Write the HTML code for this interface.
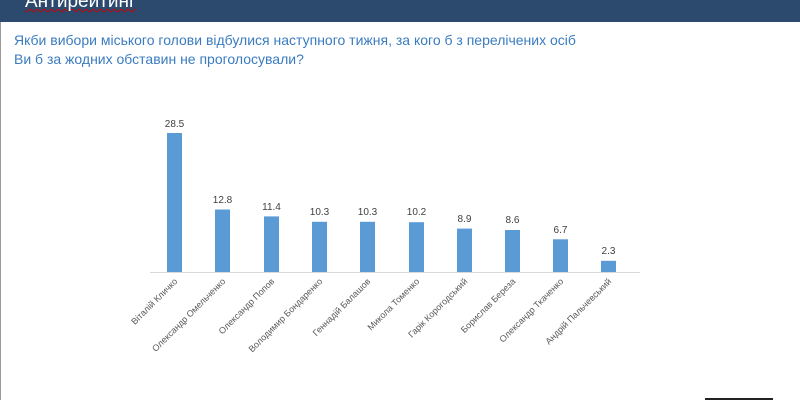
<!DOCTYPE html>
<html><head><meta charset="utf-8"><style>
body{margin:0;width:800px;height:400px;background:#fff;overflow:hidden;position:relative;font-family:"Liberation Sans",sans-serif}
.hdr{position:absolute;left:0;top:0;width:800px;height:22px;background:#2c4a6e}
.hdr span{position:absolute;left:25px;top:-9px;color:#fff;font-size:19px;text-decoration:underline wavy #c00;text-decoration-thickness:1px}
.q{position:absolute;left:14px;top:31px;color:#3a7cc0;font-size:14px;line-height:19px}
</style></head><body>
<div class="hdr"><span>Антирейтинг</span></div>
<div style="position:absolute;left:0;top:22px;width:1px;height:378px;background:#999"></div>
<div class="q">Якби вибори міського голови відбулися наступного тижня, за кого б з перелічених осіб<br>Ви б за жодних обставин не проголосували?</div>
<svg width="800" height="400" style="position:absolute;left:0;top:0" font-family="Liberation Sans, sans-serif">
<line x1="150" y1="272.5" x2="640" y2="272.5" stroke="#d9d9d9" stroke-width="1"/>
<g fill="#5b9bd5" font-size="10" text-anchor="middle">
<rect x="167" y="133" width="15" height="139"/><text x="174.5" y="127" fill="#404040">28.5</text>
<rect x="215" y="209.5" width="15" height="62.5"/><text x="222.5" y="203" fill="#404040">12.8</text>
<rect x="264" y="216.4" width="15" height="55.6"/><text x="271.5" y="210" fill="#404040">11.4</text>
<rect x="312" y="221.8" width="15" height="50.2"/><text x="319.5" y="215" fill="#404040">10.3</text>
<rect x="360" y="221.8" width="15" height="50.2"/><text x="367.5" y="215" fill="#404040">10.3</text>
<rect x="409" y="222.2" width="15" height="49.8"/><text x="416.5" y="215" fill="#404040">10.2</text>
<rect x="457" y="228.6" width="15" height="43.4"/><text x="464.5" y="222" fill="#404040">8.9</text>
<rect x="505" y="230" width="15" height="42"/><text x="512.5" y="223" fill="#404040">8.6</text>
<rect x="553" y="239.3" width="15" height="32.7"/><text x="560.5" y="233" fill="#404040">6.7</text>
<rect x="601" y="260.8" width="15" height="11.2"/><text x="608.5" y="254" fill="#404040">2.3</text>
</g>
<g fill="#595959" font-size="9" text-anchor="end">
<text transform="translate(178,282) rotate(-45)">Віталій Кличко</text>
<text transform="translate(226,282) rotate(-45)">Олександр Омельченко</text>
<text transform="translate(275,282) rotate(-45)">Олександр Попов</text>
<text transform="translate(323,282) rotate(-45)">Володимир Бондаренко</text>
<text transform="translate(371,282) rotate(-45)">Геннадій Балашов</text>
<text transform="translate(420,282) rotate(-45)">Микола Томенко</text>
<text transform="translate(468,282) rotate(-45)">Гарік Корогодський</text>
<text transform="translate(516,282) rotate(-45)">Борислав Береза</text>
<text transform="translate(564,282) rotate(-45)">Олександр Ткаченко</text>
<text transform="translate(612,282) rotate(-45)">Андрій Пальчевський</text>
</g>
<rect x="705" y="398" width="68" height="2" fill="#222"/>
</svg>
</body></html>
